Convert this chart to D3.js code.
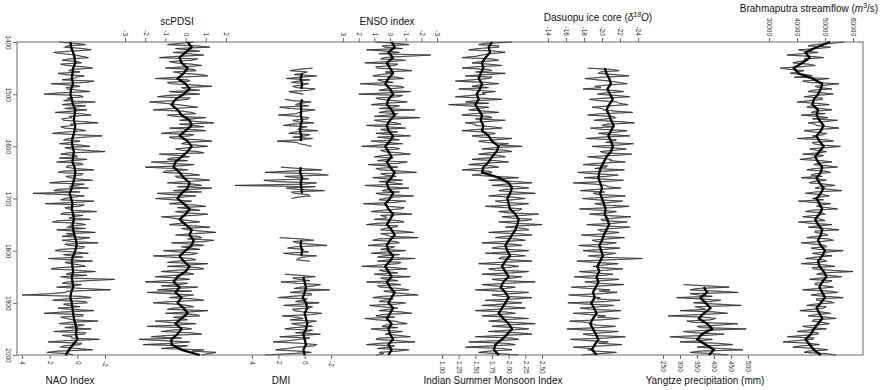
<!DOCTYPE html>
<html>
<head>
<meta charset="utf-8">
<script src="https://cdn.jsdelivr.net/npm/d3@7"></script>
<style>
  body { margin: 0; background: #fff; }
  svg { display: block; font-family: Arial, "Liberation Sans", sans-serif; }
</style>
</head>
<body>
<div id="chart"></div>
<script>
// ---- data ----
// xxxAnnual: values every 5 yr from the start year
// xxxMid: values every 5 yr, 2.5 yr after the start year
// xxxSmooth: smoothed curve every 10 yr
const yearTicks = [1400, 1500, 1600, 1700, 1800, 1900, 2000];

const naoTicks = [4, 2, 0, -2];
const naoAnnual = [
  1.3, -0.6, 0.9, -1.0, 1.7, 0.1, -0.8, 1.1, -0.3, 0.8,
  -1.1, 0.6, 1.4, -0.5, 0.3, -1.2, 1.9, -0.2, 0.7, -0.9,
  2.4, -0.4, 0.5, -1.3, 1.1, 0.2, -0.7, 1.6, -1.0, 0.4,
  1.0, -1.5, 0.3, 0.9, -0.6, 1.8, -1.8, 0.6, -0.2, 1.3,
  -0.9, 0.5, -2.0, 1.2, 0.0, -0.7, 1.5, -0.4, 0.8, -1.2,
  1.4, -0.3, 0.6, -1.1, 2.0, 0.2, -0.8, 1.7, 3.2, -0.5,
  0.9, -1.2, 2.3, -0.1, 0.6, -1.4, 1.2, 0.3, -0.9, 1.8,
  -0.6, 0.7, 1.5, -1.3, 0.2, -0.9, 1.1, -1.5, 0.6, -0.4,
  1.6, -0.8, 0.4, 2.1, -1.1, 0.5, -0.6, 1.9, -1.3, 0.8,
  1.2, -2.7, 0.7, -0.3, 1.5, -2.4, 0.9, 4.0, -1.0, 1.8,
  -0.7, 0.6, 1.4, -1.2, 2.4, -0.4, 0.8, -1.5, 1.3, 0.1,
  -1.0, 1.7, -0.5, 0.4, -1.6, 2.1, -0.2, 1.2, -1.1, 2.2,
  0.3
];
const naoMid = [
  0.2, 0.7, -0.4, 0.5, 1.0, -0.3, 0.6, 0.0, 1.2, -0.5,
  0.4, -0.2, 0.9, 0.1, 1.1, -0.6, 0.5, 0.8, -0.1, 1.3,
  -0.2, 0.7, 1.0, 0.3, -0.6, 0.9, 0.4, -0.3, 0.6, 1.1,
  -0.4, 0.5, 1.2, -0.1, 0.8, 0.2, -0.5, 1.0, 0.4, -0.2,
  0.9, -0.6, 0.6, 0.1, 1.3, 0.4, -0.3, 0.7, 0.2, 1.0,
  -0.4, 0.8, 0.0, 1.1, -0.5, 0.6, 1.4, -0.2, 0.9, 0.3,
  1.2, 0.1, -0.5, 0.9, 0.3, 1.0, -0.4, 0.6, 1.3, -0.1,
  0.5, -0.6, 0.2, 0.8, 1.1, -0.3, 0.4, 0.9, -0.5, 1.2,
  0.3, 1.0, -0.4, 0.6, 0.9, -0.2, 1.3, 0.1, 0.5, -0.7,
  0.6, -0.8, 1.1, 0.3, -0.5, 0.7, 1.9, -0.3, 0.8, -0.6,
  1.0, -0.2, 0.5, 0.9, -0.4, 1.2, 0.3, 0.6, -0.5, 0.9,
  0.2, -0.6, 1.1, 0.4, 0.8, -0.3, 1.0, 0.0, 1.4, 0.7
];
const naoSmooth = [
  0.5, 0.45, 0.3, 0.2, 0.15, 0.3, 0.35, 0.4, 0.3, 0.45,
  0.5, 0.4, 0.3, 0.15, 0.2, 0.25, 0.15, 0.2, 0.3, 0.4,
  0.35, 0.25, 0.3, 0.35, 0.2, 0.15, 0.2, 0.3, 0.4, 0.55,
  0.45, 0.35, 0.4, 0.3, 0.25, 0.35, 0.3, 0.2, 0.1, 0.05,
  0.15, 0.3, 0.4, 0.35, 0.3, 0.4, 0.35, 0.3, 0.45, 0.5,
  0.4, 0.35, 0.3, 0.25, 0.15, 0.05, 0.1, 0.0, 0.3, 0.6,
  0.85
];

const pdsiTicks = [-3, -2, -1, 0, 1, 2];
const pdsiAnnual = [
  0.4, -0.9, 1.2, 0.1, -0.6, 0.9, -1.3, 0.3, -0.5, 0.8,
  -1.0, 0.5, -0.2, 1.1, -1.5, 0.2, -0.7, 1.3, 0.0, -0.8,
  0.7, -1.4, 0.1, -1.8, -0.4, 0.6, -1.6, 0.3, -0.9, 1.0,
  -0.3, 1.4, 0.4, -0.8, 1.0, -1.2, 0.2, -0.6, 1.3, -0.2,
  1.1, -0.5, 0.6, -1.3, 0.2, -0.9, -1.7, 0.4, -2.0, 0.1,
  -1.1, 0.7, -0.4, 1.2, -0.9, 0.8, 1.3, -0.6, -1.4, 0.5,
  -1.5, 0.3, -0.8, 1.0, 0.2, -0.5, 1.1, -1.2, -0.3, 0.7,
  -0.8, 1.2, 0.1, 1.5, -0.5, 0.8, 1.4, -0.7, 0.9, 0.2,
  -1.1, 0.6, -1.6, 0.3, -0.4, 1.1, -0.9, 0.9, -1.2, 0.4,
  -1.5, 0.2, -2.0, -0.3, 0.6, -1.4, -1.9, 0.4, -0.8, 0.9,
  -1.6, 0.1, -0.6, 1.1, -1.0, 0.7, -0.2, -1.5, 0.5, -1.9,
  0.3, -1.2, 0.8, -1.7, -2.3, 0.2, -2.1, -0.4, 0.9, 1.5,
  0.8
];
const pdsiMid = [
  -0.3, 0.5, -0.5, 0.7, 0.2, -0.4, 0.6, -0.8, 0.3, -0.1,
  0.4, -0.6, 0.8, -0.3, 0.1, -0.9, 0.5, -0.2, 0.7, 0.0,
  -0.9, 0.2, -0.6, -1.0, 0.1, -0.7, -0.2, 0.5, -0.5, 0.3,
  0.6, -0.3, 0.9, 0.2, -0.5, 0.4, -0.8, 0.7, 0.0, 0.5,
  0.2, -0.2, 0.9, -0.4, -0.7, 0.1, -0.9, -0.3, -0.6, -1.0,
  0.2, -0.5, 0.6, 0.0, 0.4, -0.4, 0.3, 0.8, -0.7, -0.2,
  -0.6, -0.2, 0.5, -0.4, 0.7, -0.1, 0.4, -0.6, 0.2, -0.3,
  0.4, -0.2, 0.8, 0.3, 0.6, 0.1, 0.9, 0.3, -0.2, 0.7,
  -0.4, 0.3, -0.7, 0.5, -0.9, 0.2, 0.6, -0.5, 0.1, -0.6,
  -0.3, -0.9, 0.1, -1.2, -0.5, 0.3, -0.8, -0.2, 0.4, -0.7,
  -0.5, 0.4, -0.9, 0.2, 0.5, -0.6, 0.1, -0.8, -0.4, -0.1,
  -0.7, 0.3, -0.9, -0.2, -1.1, -0.6, 0.1, -1.2, 0.3, 1.1
];
const pdsiSmooth = [
  0.1, 0.3, 0.0, -0.3, -0.2, 0.1, -0.1, -0.4, 0.0, 0.2,
  -0.1, -0.5, -0.7, -0.4, -0.2, 0.2, 0.3, 0.0, -0.3, 0.1,
  0.3, 0.1, -0.2, -0.5, -0.6, -0.3, -0.1, 0.2, 0.1, -0.2,
  -0.4, -0.1, 0.2, 0.0, -0.3, 0.0, 0.3, 0.2, 0.4, 0.3,
  0.0, -0.3, -0.1, 0.2, 0.0, -0.4, -0.6, -0.3, -0.5, -0.2,
  -0.4, -0.1, 0.1, -0.2, -0.5, -0.2, -0.4, -0.7, -0.7, -0.2,
  0.7
];

const dmiTicks = [4, 2, 0, -2];
const dmiAnnual = [
  null, null, null, null, null, null, null, null, null, null,
  -0.6, 1.1, 0.2, -0.9, 1.4, 0.5, -0.3, 0.9, -0.8, 1.2,
  0.1, null, 1.5, -0.5, 0.7, 1.9, -0.8, 0.4, 2.0, -0.3,
  0.9, -0.7, 1.6, 0.3, -1.0, 1.2, 0.0, -0.6, 2.1, 0.4,
  -0.5, null, null, null, null, null, null, null, 1.8, -1.3,
  3.0, -1.8, 0.6, 3.1, -0.9, 5.3, 1.4, -1.5, 0.8, -0.4,
  1.0, null, null, null, null, null, null, null, null, null,
  null, null, null, null, null, 1.9, -0.7, 0.6, -1.7, 1.3,
  0.2, 1.6, -0.9, 0.5, -0.4, null, null, null, null, 1.5,
  -0.8, 0.4, 1.8, -1.2, 0.3, -1.9, 1.1, -0.5, 2.0, 0.2,
  -1.1, 1.6, -0.3, 0.8, -1.3, 1.7, 0.1, -0.9, 1.0, -0.6,
  1.5, -0.2, -1.2, 1.9, 0.4, 2.4, -0.9, 0.6, 2.2, -0.5,
  3.0
];
const dmiMid = [
  null, null, null, null, null, null, null, null, null, null,
  0.5, -0.2, 0.8, 0.3, -0.4, 1.0, 0.2, 0.6, -0.3, 0.7,
  null, null, 0.9, 0.4, -0.3, 1.1, 0.0, 0.7, 0.5, -0.2,
  0.6, 1.0, -0.2, 0.5, 0.8, -0.4, 0.9, 0.3, 0.6, -0.1,
  null, null, null, null, null, null, null, null, 0.4, 1.2,
  -0.6, 1.5, -0.3, 2.2, 0.1, -0.8, 0.6, 1.0, -0.2, 0.5,
  null, null, null, null, null, null, null, null, null, null,
  null, null, null, null, null, 0.3, 0.9, -0.4, 0.7, 0.1,
  -0.3, 0.8, 0.2, 0.6, null, null, null, null, null, 0.3,
  0.9, -0.4, 0.6, -0.7, 0.8, 0.2, -0.5, 1.0, -0.2, 0.7,
  0.3, -0.6, 0.9, 0.1, -0.5, 0.6, 1.1, -0.3, 0.4, 0.8,
  -0.6, 0.7, 0.2, -0.4, 1.2, 0.3, -0.7, 1.3, 0.5, 1.0
];
const dmiSmooth = [
  null, null, null, null, null, null, 0.2, 0.3, 0.2, 0.25,
  null, 0.2, 0.3, 0.25, 0.3, 0.2, 0.3, 0.35, 0.25, 0.3,
  null, null, null, null, 0.3, 0.35, 0.2, 0.3, 0.25, 0.2,
  null, null, null, null, null, null, null, null, 0.25, 0.3,
  0.2, 0.25, null, null, null, 0.1, 0.0, -0.1, 0.0, 0.15,
  -0.1, -0.2, 0.0, -0.1, -0.2, -0.1, 0.1, 0.0, -0.1, 0.1,
  0.0
];

const ensoTicks = [3, 2, 1, 0, -1, -2, -3];
const ensoAnnual = [
  0.9, -1.2, 0.3, 1.5, -0.6, -2.6, 0.4, -1.0, 1.6, -0.3,
  0.8, -1.4, -0.2, 1.1, -0.9, 0.5, 1.9, -0.7, 0.2, -1.3,
  2.0, -0.5, 0.6, -1.1, 1.2, -0.2, -1.6, 0.7, 0.1, -1.9,
  1.0, -0.4, 1.5, -1.0, 0.3, 0.9, -1.3, -0.1, 1.2, -0.8,
  1.8, -0.6, 0.4, -1.3, 1.0, 0.2, -1.1, 1.4, -0.5, 0.6,
  -1.7, 0.3, 1.1, -0.8, -0.2, 1.6, -1.2, 0.5, 0.9, -1.5,
  0.4, -1.0, 1.7, 0.1, -0.7, 1.2, -1.4, 0.3, 1.0, -0.9,
  1.5, -0.3, 0.6, -1.5, 0.2, -1.8, 1.1, -0.6, 1.4, 0.0,
  -1.0, 1.2, 0.4, -1.6, 0.8, -0.5, 1.8, -1.1, 0.3, 1.0,
  -1.3, 0.2, 1.5, -0.7, 0.6, -1.2, -0.1, -1.8, 1.1, 0.4,
  -1.0, 1.3, -0.5, 0.7, -1.4, 0.9, 1.6, -0.3, -1.1, 0.5,
  1.2, -0.8, 0.3, -1.3, 0.9, -1.6, 1.5, 0.1, -1.2, 0.7,
  0.9
];
const ensoMid = [
  -0.4, 0.5, -0.8, 0.2, 0.7, -0.9, 0.6, 0.1, -0.5, 0.9,
  -0.6, 0.3, 0.6, -0.4, 0.8, -0.2, 0.5, -0.9, 0.7, 0.1,
  -0.8, 0.9, -0.3, 0.4, -0.6, 0.7, 0.2, -0.5, 1.0, -0.3,
  0.5, -0.7, 0.2, 0.6, -0.5, -0.1, 0.8, -0.6, 0.3, 0.7,
  -0.3, 0.6, -0.6, 0.4, -0.2, 0.8, -0.5, 0.2, 0.9, -0.7,
  0.6, -0.4, 0.2, 0.7, -0.8, 0.4, 0.1, -0.6, 0.5, -0.2,
  0.7, -0.3, 0.4, -0.9, 0.5, -0.4, 0.6, 0.2, -0.6, 0.8,
  -0.5, 0.4, -0.7, 0.6, 0.0, 0.7, -0.4, 0.5, -0.3, 0.6,
  0.3, -0.6, 0.8, 0.1, -0.7, 0.6, -0.2, 0.7, -0.5, 0.2,
  0.6, -0.5, 0.3, 0.8, -0.6, 0.4, -0.9, 0.5, -0.2, 0.7,
  -0.4, 0.6, 0.1, -0.7, 0.5, -0.3, 0.8, -0.6, 0.3, -0.5,
  0.5, 0.0, -0.6, 0.7, -0.4, 0.6, -0.3, 0.8, -0.5, 0.4
];
const ensoSmooth = [
  -0.1, -0.3, 0.1, -0.2, 0.2, 0.0, -0.2, 0.1, 0.3, 0.0,
  -0.2, 0.1, 0.2, -0.1, -0.3, 0.0, 0.2, 0.1, -0.2, 0.0,
  0.3, 0.1, -0.1, 0.2, 0.0, -0.3, -0.1, 0.2, 0.1, -0.2,
  0.0, 0.3, 0.1, -0.2, 0.0, 0.2, -0.1, -0.3, 0.0, 0.2,
  0.1, -0.2, 0.0, 0.3, 0.1, -0.1, 0.2, 0.0, -0.3, -0.1,
  0.1, -0.2, 0.0, 0.2, -0.1, 0.1, 0.0, -0.2, 0.1, -0.1,
  0.1
];

const ismiTicks = [1.0, 1.25, 1.5, 1.75, 2.0, 2.25, 2.5];
const ismiAnnual = [
  2.05, 1.55, 1.85, 1.4, 1.95, 1.6, 1.3, 1.85, 1.45, 1.9,
  1.3, 1.75, 1.95, 1.35, 1.7, 1.2, 1.85, 1.45, 1.25, 1.8,
  1.65, 1.2, 1.9, 1.35, 1.1, 1.7, 1.4, 1.85, 1.3, 1.75,
  1.95, 1.35, 1.5, 1.9, 1.3, 1.8, 1.45, 2.05, 1.55, 2.0,
  2.2, 1.6, 2.05, 1.55, 1.95, 1.45, 2.0, 1.4, 1.85, 1.3,
  1.75, 1.45, 2.15, 1.7, 2.35, 1.75, 2.3, 1.85, 2.4, 1.7,
  2.25, 1.8, 2.3, 1.65, 2.2, 1.85, 2.45, 1.9, 2.35, 1.85,
  2.5, 1.95, 2.3, 1.7, 2.35, 1.8, 2.25, 1.6, 2.2, 1.75,
  2.3, 1.65, 2.25, 1.85, 2.35, 1.55, 2.15, 1.7, 2.3, 1.6,
  2.2, 1.75, 2.4, 1.6, 2.1, 1.5, 2.3, 1.75, 2.35, 1.65,
  2.2, 1.6, 2.25, 1.5, 2.1, 1.6, 2.3, 1.7, 2.4, 1.75,
  2.3, 1.7, 2.35, 1.5, 2.15, 1.4, 2.1, 1.35, 2.05, 1.55,
  2.15
];
const ismiMid = [
  1.65, 1.85, 1.55, 1.8, 1.7, 1.5, 1.75, 1.6, 1.7, 1.5,
  1.7, 1.5, 1.65, 1.75, 1.45, 1.65, 1.55, 1.7, 1.5, 1.6,
  1.45, 1.6, 1.5, 1.7, 1.4, 1.55, 1.65, 1.45, 1.7, 1.5,
  1.65, 1.5, 1.75, 1.55, 1.6, 1.7, 1.6, 1.8, 1.65, 1.85,
  1.8, 1.95, 1.7, 1.85, 1.65, 1.8, 1.6, 1.75, 1.55, 1.7,
  1.6, 1.75, 1.9, 2.1, 1.95, 2.15, 1.95, 2.1, 1.9, 2.05,
  2.05, 1.9, 2.1, 1.95, 2.15, 2.0, 2.2, 2.05, 2.25, 2.1,
  2.15, 2.25, 2.0, 2.15, 1.95, 2.1, 1.9, 2.05, 1.85, 2.0,
  2.0, 2.1, 1.9, 2.05, 1.85, 2.0, 1.95, 1.8, 2.05, 1.9,
  2.05, 1.9, 2.0, 1.8, 1.95, 1.85, 2.05, 1.9, 2.1, 1.95,
  1.9, 2.0, 1.8, 1.95, 1.85, 2.0, 1.9, 2.05, 1.95, 2.1,
  2.0, 2.15, 1.9, 2.05, 1.85, 1.95, 1.75, 1.9, 1.7, 1.85
];
const ismiSmooth = [
  1.75, 1.7, 1.72, 1.65, 1.6, 1.62, 1.58, 1.55, 1.6, 1.57,
  1.52, 1.55, 1.5, 1.55, 1.6, 1.58, 1.62, 1.6, 1.7, 1.75,
  1.85, 1.82, 1.75, 1.7, 1.62, 1.6, 1.85, 2.0, 2.05, 2.02,
  1.98, 2.0, 2.02, 2.1, 2.15, 2.13, 2.1, 2.05, 2.0, 1.95,
  1.98, 2.02, 1.95, 1.9, 1.95, 2.0, 1.92, 1.88, 1.95, 2.0,
  1.95, 1.9, 1.85, 1.92, 2.0, 2.05, 1.98, 1.9, 1.8, 1.78,
  1.85
];

const dasuopuTicks = [-14, -16, -18, -20, -22, -24];
const dasuopuStart = 1450;
const dasuopuAnnual = [
  -18.4, -21.9, -19.6, -23.0, -18.1, -20.9, -22.8, -19.2, -17.9, -22.4,
  -19.5, -23.1, -18.6, -21.7, -22.9, -18.9, -20.2, -23.4, -18.4, -21.5,
  -19.1, -23.6, -20.0, -18.7, -22.8, -19.6, -23.1, -18.2, -21.2, -23.5,
  -18.9, -22.7, -19.8, -23.3, -18.4, -21.0, -22.6, -17.9, -20.4, -22.5,
  -17.3, -21.8, -18.0, -22.4, -16.8, -20.5, -22.1, -17.6, -19.0, -22.6,
  -17.8, -22.3, -19.2, -23.0, -17.5, -21.6, -18.6, -23.2, -19.9, -22.8,
  -18.3, -23.1, -19.6, -21.9, -17.7, -22.5, -18.9, -21.6, -17.4, -22.0,
  -17.9, -21.5, -18.5, -24.5, -17.2, -21.8, -19.0, -22.3, -17.5, -21.2,
  -16.9, -21.9, -18.1, -22.4, -16.6, -20.9, -21.7, -16.3, -19.8, -22.0,
  -16.2, -21.3, -17.6, -22.1, -16.8, -20.4, -21.9, -16.4, -18.9, -21.5,
  -16.1, -21.8, -17.9, -22.6, -16.5, -20.7, -22.2, -16.8, -18.5, -21.6,
  -17.8
];
const dasuopuMid = [
  -20.9, -19.8, -21.4, -20.2, -19.5, -21.8, -20.6, -19.9, -21.1, -20.3,
  -21.6, -20.4, -19.7, -21.9, -20.8, -20.0, -21.5, -19.8, -21.2, -20.5,
  -21.9, -20.6, -21.4, -20.1, -21.7, -20.9, -19.9, -21.6, -20.4, -21.8,
  -20.7, -21.5, -20.2, -21.3, -19.8, -20.9, -19.5, -20.6, -19.2, -20.4,
  -19.1, -20.5, -19.8, -20.1, -19.2, -20.6, -19.4, -20.3, -19.6, -20.8,
  -19.5, -20.9, -20.0, -21.1, -19.8, -20.7, -20.3, -21.4, -20.1, -21.2,
  -20.2, -21.3, -19.9, -20.8, -19.6, -20.6, -19.4, -20.5, -19.2, -20.3,
  -19.4, -20.6, -19.7, -20.9, -19.1, -20.2, -19.8, -20.4, -19.0, -20.1,
  -18.8, -20.2, -19.3, -20.0, -18.6, -19.7, -19.9, -18.5, -19.4, -20.3,
  -18.4, -19.8, -18.9, -20.1, -18.6, -19.5, -19.9, -18.3, -19.2, -19.7,
  -18.5, -19.9, -18.8, -20.4, -18.7, -19.6, -20.0, -18.9, -19.3, -19.8
];
const dasuopuSmooth = [
  -20.3, -20.5, -20.8, -21.0, -20.6,
  -20.9, -21.2, -20.8, -20.5, -20.8, -21.0, -21.3, -21.0, -20.7, -21.0,
  -21.2, -21.0, -20.5, -20.2, -19.9, -19.7, -19.6, -19.8, -20.0, -19.8,
  -20.0, -20.2, -20.4, -20.3, -20.6, -20.8, -20.5, -20.2, -20.0, -19.7,
  -19.9, -20.1, -19.8, -19.5, -19.7, -19.4, -19.6, -19.3, -19.0, -19.2,
  -18.8, -19.1, -19.4, -19.0, -18.7, -19.0, -19.3, -19.6, -19.2, -18.9,
  -19.4
];

const yangtzeTicks = [250, 300, 350, 400, 450, 500];
const yangtzeAnnualStart = 1865;
const yangtzeAnnual = [
  310, 445, 330, 470, 355, 290, 420, 340, 480, 365,
  300, 440, 265, 405, 320, 470, 350, 495, 310, 430,
  270, 395, 300, 455, 350, 485, 330, 440
];
const yangtzeMid = [
  380, 350, 405, 330, 395, 360, 385, 410, 345, 375,
  400, 355, 370, 390, 340, 420, 360, 385, 345, 375,
  325, 365, 410, 380, 420, 360, 395
];
const yangtzeSmoothStart = 1870;
const yangtzeSmooth = [370, 380, 360, 375, 390, 370, 355, 380, 395, 365, 350, 375, 400, 385];

const brahmaTicks = [30000, 40000, 50000, 60000];
const brahmaAnnual = [
  57000, 46500, 52000, 40500, 47500, 36500, 49500, 44000, 38500, 46500,
  34000, 42500, 37500, 45500, 51500, 42000, 55000, 46500, 52500, 44000,
  53000, 42500, 49000, 40000, 51500, 43500, 52500, 45000, 41500, 51000,
  54500, 44000, 47000, 55000, 42500, 50500, 45500, 40000, 53000, 46000,
  55500, 44500, 50500, 42000, 47500, 41000, 52500, 46000, 54500, 43500,
  52000, 45000, 41500, 50500, 44500, 53500, 46500, 56000, 43000, 51500,
  45500, 40500, 52000, 47000, 54500, 43000, 50000, 42000, 48500, 40500,
  52500, 44000, 55000, 46500, 51000, 43500, 53000, 41500, 50000, 45000,
  56500, 45500, 52500, 43000, 50500, 41500, 53500, 46000, 60000, 47000,
  56000, 44500, 51500, 46500, 53000, 42000, 54500, 45000, 56500, 47000,
  53000, 43500, 49500, 41000, 52000, 44000, 54000, 45500, 51500, 42000,
  50500, 40000, 47500, 36500, 45500, 35000, 48000, 38500, 51000, 42500,
  54000
];
const brahmaMid = [
  52000, 44000, 47500, 43000, 41500, 45000, 42500, 40500, 44000, 41000,
  37500, 40000, 43500, 39000, 47000, 44500, 50500, 48000, 45500, 49500,
  46000, 49000, 44500, 47000, 45000, 48500, 46500, 50000, 47500, 45500,
  49500, 46500, 51000, 48000, 46000, 49500, 47000, 50500, 45500, 48500,
  50500, 47000, 48000, 49500, 45000, 48500, 47500, 51000, 46500, 50000,
  46500, 49000, 47500, 45500, 50000, 48000, 51500, 46500, 49000, 47500,
  49500, 46000, 48500, 50500, 45500, 49000, 46500, 47500, 50000, 45000,
  48000, 50500, 46500, 49500, 47000, 51000, 48500, 46000, 50500, 47500,
  51000, 48500, 46500, 49500, 47000, 50000, 45500, 52000, 49000, 51500,
  48000, 52500, 46500, 50000, 47500, 51500, 48500, 50000, 47000, 52000,
  46500, 50500, 45500, 48500, 47000, 50500, 46000, 49000, 47500, 45000,
  44000, 47500, 42500, 46000, 40000, 44500, 41500, 47000, 44000, 50500
];
const brahmaSmooth = [
  51800, 47000, 43000, 44500, 42000, 38800, 40500, 45500, 49000, 48500,
  47500, 46000, 45500, 47500, 47000, 48000, 49500, 48500, 47000, 48000,
  49500, 48000, 46500, 47500, 49000, 48500, 47000, 48000, 49500, 48500,
  47000, 48000, 49000, 48000, 46500, 47500, 49000, 48500, 47500, 48500,
  50000, 49000, 47500, 48000, 49500, 50500, 49000, 48000, 49000, 50000,
  48500, 47000, 48000, 49000, 47500, 46000, 45000, 43000, 44500, 46000,
  48500
];

// ---- layout ----
const width = 883, height = 390;
const frame = { left: 17, right: 863, top: 42, bottom: 355 };
const fontStack = 'Arial, "Liberation Sans", sans-serif';
const plain = d => String(d);

const series = [
  { annual: naoAnnual, mid: naoMid, aStart: 1400, smooth: naoSmooth, sStart: 1400, domain: [4, -2], range: [22, 105], ticks: naoTicks, side: 'bottom', fmt: plain },
  { annual: pdsiAnnual, mid: pdsiMid, aStart: 1400, smooth: pdsiSmooth, sStart: 1400, domain: [-3, 2], range: [125, 226], ticks: pdsiTicks, side: 'top', fmt: plain },
  { annual: dmiAnnual, mid: dmiMid, aStart: 1400, smooth: dmiSmooth, sStart: 1400, domain: [4, -2], range: [252, 331], ticks: dmiTicks, side: 'bottom', fmt: plain },
  { annual: ensoAnnual, mid: ensoMid, aStart: 1400, smooth: ensoSmooth, sStart: 1400, domain: [3, -3], range: [343, 437], ticks: ensoTicks, side: 'top', fmt: plain },
  { annual: ismiAnnual, mid: ismiMid, aStart: 1400, smooth: ismiSmooth, sStart: 1400, domain: [1, 2.5], range: [442, 542], ticks: ismiTicks, side: 'bottom', fmt: d3.format('.2f') },
  { annual: dasuopuAnnual, mid: dasuopuMid, aStart: dasuopuStart, smooth: dasuopuSmooth, sStart: dasuopuStart, domain: [-14, -24], range: [548, 638], ticks: dasuopuTicks, side: 'top', fmt: plain },
  { annual: yangtzeAnnual, mid: yangtzeMid, aStart: yangtzeAnnualStart, smooth: yangtzeSmooth, sStart: yangtzeSmoothStart, domain: [250, 500], range: [663, 748], ticks: yangtzeTicks, side: 'bottom', fmt: plain },
  { annual: brahmaAnnual, mid: brahmaMid, aStart: 1400, smooth: brahmaSmooth, sStart: 1400, domain: [30000, 60000], range: [769, 853], ticks: brahmaTicks, side: 'top', fmt: plain }
];

const svg = d3.select('#chart').append('svg')
  .attr('width', width)
  .attr('height', height);

const y = d3.scaleLinear().domain([1400, 2000]).range([frame.top, frame.bottom]);

svg.append('rect')
  .attr('x', frame.left)
  .attr('y', frame.top)
  .attr('width', frame.right - frame.left)
  .attr('height', frame.bottom - frame.top)
  .attr('fill', 'none')
  .attr('stroke', '#6b6b6b')
  .attr('stroke-width', 1);

const toPoints = (vals, start, step) => vals.map((v, i) => ({ year: start + i * step, v }));
const annualPoints = s => toPoints(s.annual, s.aStart, 5)
  .concat(toPoints(s.mid, s.aStart + 2.5, 5))
  .sort((a, b) => a.year - b.year);

series.forEach(s => {
  const x = d3.scaleLinear().domain(s.domain).range(s.range);
  const line = d3.line()
    .defined(d => d.v !== null)
    .x(d => x(d.v))
    .y(d => y(d.year));

  const pts = annualPoints(s);
  // grey halo + dark core for the annual series
  svg.append('path')
    .datum(pts)
    .attr('fill', 'none')
    .attr('stroke', '#8f8f8f')
    .attr('stroke-width', 1.2)
    .attr('d', line);
  svg.append('path')
    .datum(pts)
    .attr('fill', 'none')
    .attr('stroke', '#111')
    .attr('stroke-width', 0.55)
    .attr('d', line);

  svg.append('path')
    .datum(toPoints(s.smooth, s.sStart, 10))
    .attr('fill', 'none')
    .attr('stroke', '#000')
    .attr('stroke-width', 2.3)
    .attr('stroke-linejoin', 'round')
    .attr('d', line);

  const top = s.side === 'top';
  const axis = (top ? d3.axisTop(x) : d3.axisBottom(x))
    .tickValues(s.ticks)
    .tickSize(4)
    .tickFormat(s.fmt);

  const g = svg.append('g')
    .attr('transform', `translate(0,${top ? frame.top : frame.bottom})`)
    .call(axis);
  g.select('.domain').remove();
  g.selectAll('.tick line').attr('stroke', '#6b6b6b');
  g.selectAll('.tick text')
    .attr('x', top ? -6 : 6)
    .attr('y', 0)
    .attr('dy', '0.33em')
    .attr('transform', 'rotate(90)')
    .attr('text-anchor', top ? 'end' : 'start')
    .attr('font-size', '6.5px')
    .attr('font-family', fontStack)
    .attr('fill', '#222');
});

// year axis
const ya = svg.append('g')
  .attr('transform', `translate(${frame.left},0)`)
  .call(d3.axisLeft(y).tickValues(yearTicks).tickSize(4).tickFormat(plain));
ya.select('.domain').remove();
ya.selectAll('.tick line').attr('stroke', '#6b6b6b');
ya.selectAll('.tick text')
  .attr('x', 0)
  .attr('y', 0)
  .attr('dy', '0.33em')
  .attr('transform', 'translate(-9,0) rotate(90)')
  .attr('text-anchor', 'middle')
  .attr('font-size', '6.5px')
  .attr('font-family', fontStack)
  .attr('fill', '#222');

// axis titles
const titleAt = (x, yy) => svg.append('text')
  .attr('x', x).attr('y', yy)
  .attr('text-anchor', 'middle')
  .attr('font-size', '10px')
  .attr('fill', '#111');

titleAt(177, 25).text('scPDSI');
titleAt(387, 25).text('ENSO index');

const dasu = titleAt(598, 21);
dasu.append('tspan').text('Dasuopu ice core (');
dasu.append('tspan').attr('font-style', 'italic').text('δ');
dasu.append('tspan').attr('font-style', 'italic').attr('font-size', '7px').attr('dy', -4).text('18');
dasu.append('tspan').attr('font-style', 'italic').attr('dy', 4).text('O');
dasu.append('tspan').text(')');

const brah = titleAt(809, 12);
brah.append('tspan').text('Brahmaputra streamflow (');
brah.append('tspan').attr('font-style', 'italic').text('m');
brah.append('tspan').attr('font-size', '7px').attr('dy', -4).text('3');
brah.append('tspan').attr('dy', 4).text('/s)');

titleAt(70, 384).text('NAO Index');
titleAt(281, 384).text('DMI');
titleAt(493, 384).text('Indian Summer Monsoon Index');
titleAt(705, 384).text('Yangtze precipitation (mm)');
</script>
</body>
</html>
